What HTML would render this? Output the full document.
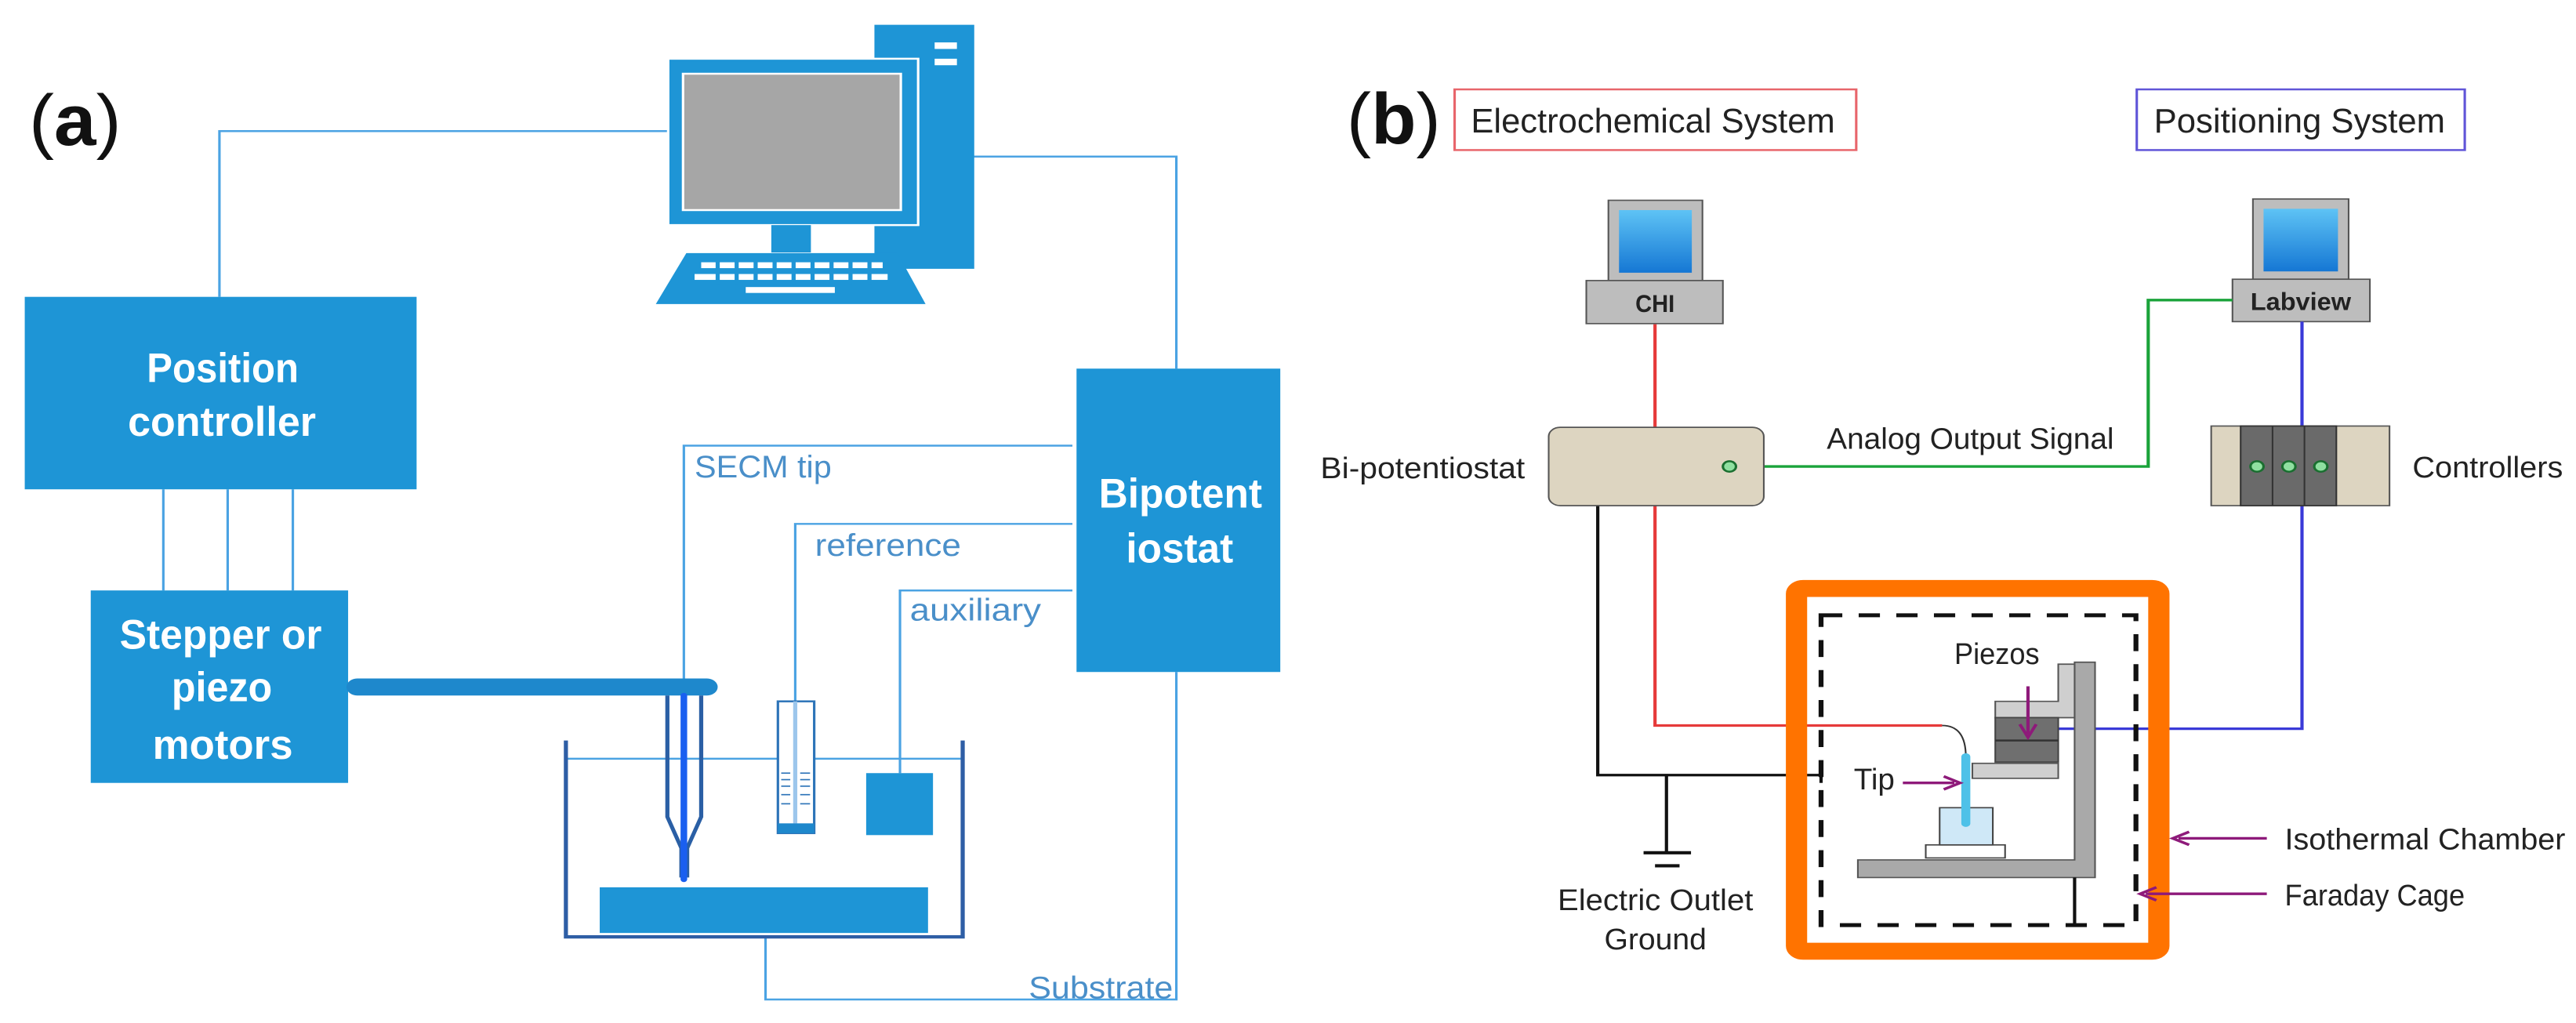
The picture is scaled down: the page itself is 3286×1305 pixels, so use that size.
<!DOCTYPE html>
<html><head><meta charset="utf-8"><style>
html,body{margin:0;padding:0;background:#fff;}
svg{display:block;}
text{font-family:"Liberation Sans",sans-serif;}
</style></head><body>
<svg width="3286" height="1305" xmlns="http://www.w3.org/2000/svg">
<rect width="3286" height="1305" fill="#fff"/>
<!-- Panel A -->
<svg x="0" y="0" width="1650" height="1305" viewBox="0 0 1568 1568" preserveAspectRatio="none">
  <text x="35" y="222" font-size="110" textLength="112" lengthAdjust="spacingAndGlyphs" fill="#111">(<tspan font-weight="bold">a</tspan>)</text>
  <!-- connector lines -->
  <g fill="none" stroke="#4ba3e3" stroke-width="3">
    <polyline points="266,455 266,201 830,201"/>
    <polyline points="1180,240 1426,240 1426,565"/>
    <line x1="198" y1="750" x2="198" y2="905"/>
    <line x1="276" y1="750" x2="276" y2="905"/>
    <line x1="355" y1="750" x2="355" y2="905"/>
    <polyline points="1300,683 829,683 829,1045"/>
    <polyline points="1300,803 964,803 964,1075"/>
    <polyline points="1300,905 1091,905 1091,1185"/>
    <polyline points="1426,1030 1426,1532 928,1532 928,1437"/>
    <line x1="687" y1="1163" x2="1165" y2="1163"/>
  </g>
  <!-- tower -->
  <rect x="1060" y="38" width="121" height="374" fill="#1e95d6"/>
  <rect x="1133" y="65" width="27" height="10" fill="#fff"/>
  <rect x="1133" y="90" width="27" height="10" fill="#fff"/>
  <!-- monitor -->
  <rect x="810" y="90" width="303" height="255" fill="#1e95d6" stroke="#fff" stroke-width="3"/>
  <rect x="828" y="113" width="264" height="209" fill="#a6a6a6" stroke="#fff" stroke-width="3"/>
  <rect x="935" y="345" width="48" height="42" fill="#1e95d6"/>
  <polygon points="832,388 1088,388 1122,466 795,466" fill="#1e95d6"/>
  <g fill="#fff">
    <rect x="850" y="402" width="220" height="9"/>
    <rect x="842" y="420" width="234" height="9"/>
    <rect x="904" y="440" width="108" height="9"/>
  </g>
  <g stroke="#1e95d6" stroke-width="5">
    <line x1="870" y1="398" x2="870" y2="435"/><line x1="893" y1="398" x2="893" y2="435"/><line x1="916" y1="398" x2="916" y2="435"/><line x1="939" y1="398" x2="939" y2="435"/><line x1="962" y1="398" x2="962" y2="435"/><line x1="985" y1="398" x2="985" y2="435"/><line x1="1008" y1="398" x2="1008" y2="435"/><line x1="1031" y1="398" x2="1031" y2="435"/><line x1="1054" y1="398" x2="1054" y2="435"/>
  </g>
  <!-- boxes -->
  <rect x="30" y="455" width="475" height="295" fill="#1e95d6"/>
  <rect x="110" y="905" width="312" height="295" fill="#1e95d6"/>
  <rect x="1305" y="565" width="247" height="465" fill="#1e95d6"/>
  <g fill="#fff" font-weight="bold" font-size="64" lengthAdjust="spacingAndGlyphs">
    <text x="178" y="586" textLength="184" lengthAdjust="spacingAndGlyphs">Position</text>
    <text x="155" y="668" textLength="228" lengthAdjust="spacingAndGlyphs">controller</text>
    <text x="145" y="994" textLength="245" lengthAdjust="spacingAndGlyphs">Stepper or</text>
    <text x="208" y="1075" textLength="122" lengthAdjust="spacingAndGlyphs">piezo</text>
    <text x="185" y="1163" textLength="170" lengthAdjust="spacingAndGlyphs">motors</text>
    <text x="1332" y="778" textLength="198" lengthAdjust="spacingAndGlyphs">Bipotent</text>
    <text x="1365" y="862" textLength="130" lengthAdjust="spacingAndGlyphs">iostat</text>
  </g>
  <g fill="#4a8fc9" font-size="48">
    <text x="842" y="732" textLength="166" lengthAdjust="spacingAndGlyphs">SECM tip</text>
    <text x="988" y="852" textLength="177" lengthAdjust="spacingAndGlyphs">reference</text>
    <text x="1103" y="951" textLength="159" lengthAdjust="spacingAndGlyphs">auxiliary</text>
    <text x="1247" y="1530" textLength="175" lengthAdjust="spacingAndGlyphs">Substrate</text>
  </g>
  <!-- rod -->
  <rect x="420" y="1040" width="450" height="26" rx="13" fill="#1e88cc"/>
  <!-- electrode -->
  <path d="M809,1066 L809,1252 L826,1300 L826,1345 M850,1066 L850,1252 L833,1300 L833,1345" fill="none" stroke="#2a5fa5" stroke-width="5"/>
  <line x1="829" y1="1066" x2="829" y2="1348" stroke="#1a5ff0" stroke-width="8" stroke-linecap="round"/>
  <!-- reference electrode -->
  <rect x="943" y="1075" width="44" height="202" fill="#fff" stroke="#2d74b8" stroke-width="3"/>
  <line x1="964" y1="1075" x2="964" y2="1262" stroke="#9cc6ec" stroke-width="5"/>
  <rect x="943" y="1262" width="44" height="15" fill="#1e88cc"/>
  <g stroke="#2d74b8" stroke-width="2">
    <line x1="947" y1="1185" x2="958" y2="1185"/><line x1="970" y1="1185" x2="982" y2="1185"/>
    <line x1="947" y1="1195" x2="958" y2="1195"/><line x1="970" y1="1195" x2="982" y2="1195"/>
    <line x1="947" y1="1205" x2="958" y2="1205"/><line x1="970" y1="1205" x2="982" y2="1205"/>
    <line x1="947" y1="1218" x2="958" y2="1218"/><line x1="970" y1="1218" x2="982" y2="1218"/>
    <line x1="947" y1="1232" x2="958" y2="1232"/><line x1="970" y1="1232" x2="982" y2="1232"/>
  </g>
  <rect x="1050" y="1185" width="81" height="95" fill="#1e95d6"/>
  <!-- bath -->
  <rect x="727" y="1360" width="398" height="70" fill="#1e95d6"/>
  <polyline points="686,1135 686,1436 1167,1436 1167,1135" fill="none" stroke="#2e5ea5" stroke-width="5"/>
</svg>

<!-- Panel B -->
<svg x="1650" y="0" width="1636" height="1305" viewBox="0 0 1568 1568" preserveAspectRatio="none">
  <text x="65" y="220" font-size="110" textLength="115" lengthAdjust="spacingAndGlyphs" fill="#111">(<tspan font-weight="bold">b</tspan>)</text>
  <rect x="197" y="137" width="491" height="93" fill="none" stroke="#e8656b" stroke-width="3"/>
  <rect x="1031" y="137" width="401" height="93" fill="none" stroke="#6055d8" stroke-width="3"/>
  <g fill="#222" font-size="52">
    <text x="217" y="203" textLength="445" lengthAdjust="spacingAndGlyphs">Electrochemical System</text>
    <text x="1052" y="203" textLength="356" lengthAdjust="spacingAndGlyphs">Positioning System</text>
  </g>
  <!-- computers -->
  <defs>
    <linearGradient id="scr" x1="0" y1="0" x2="0" y2="1">
      <stop offset="0" stop-color="#5ec3f5"/><stop offset="1" stop-color="#1577d4"/>
    </linearGradient>
  </defs>
  <rect x="385" y="307" width="115" height="123" fill="#bdbdbd" stroke="#555" stroke-width="2"/>
  <rect x="398" y="322" width="89" height="96" fill="url(#scr)"/>
  <rect x="358" y="430" width="167" height="66" fill="#bdbdbd" stroke="#555" stroke-width="2"/>
  <text x="418" y="478" font-size="38" font-weight="bold" fill="#222" textLength="48" lengthAdjust="spacingAndGlyphs">CHI</text>
  <rect x="1173" y="305" width="117" height="123" fill="#bdbdbd" stroke="#555" stroke-width="2"/>
  <rect x="1186" y="320" width="91" height="96" fill="url(#scr)"/>
  <rect x="1148" y="428" width="168" height="65" fill="#bdbdbd" stroke="#555" stroke-width="2"/>
  <text x="1170" y="475" font-size="38" font-weight="bold" fill="#222" textLength="123" lengthAdjust="spacingAndGlyphs">Labview</text>
  <!-- wires -->
  <g fill="none" stroke-width="4">
    <line x1="442" y1="497" x2="442" y2="655" stroke="#e63a3a"/>
    <polyline points="442,775 442,1112 793,1112" stroke="#e63a3a"/>
    <path d="M793,1112 Q822,1112 822,1160" stroke="#333" stroke-width="2"/>
    <polyline points="575,715 1045,715 1045,460 1148,460" stroke="#1aa33a"/>
    <line x1="1233" y1="493" x2="1233" y2="653" stroke="#3a3ad8"/>
    <polyline points="1233,775 1233,1117 935,1117" stroke="#3a3ad8"/>
    <polyline points="372,775 372,1188 645,1188" stroke="#111"/>
    <line x1="645" y1="1175" x2="645" y2="1200" stroke="#111"/>
    <line x1="456" y1="1188" x2="456" y2="1305" stroke="#111"/>
    <line x1="428" y1="1307" x2="486" y2="1307" stroke="#111" stroke-width="5"/>
    <line x1="442" y1="1327" x2="472" y2="1327" stroke="#111" stroke-width="5"/>
  </g>
  <!-- potentiostat -->
  <rect x="312" y="655" width="263" height="120" rx="14" fill="#ddd5c1" stroke="#555" stroke-width="2"/>
  <circle cx="533" cy="715" r="8" fill="#8fe0a0" stroke="#1a6f30" stroke-width="3"/>
  <!-- controllers -->
  <rect x="1122" y="653" width="218" height="122" fill="#ddd5c1" stroke="#555" stroke-width="2"/>
  <rect x="1158" y="653" width="117" height="122" fill="#6a6a6a" stroke="#333" stroke-width="2"/>
  <line x1="1197" y1="653" x2="1197" y2="775" stroke="#333" stroke-width="2"/>
  <line x1="1236" y1="653" x2="1236" y2="775" stroke="#333" stroke-width="2"/>
  <circle cx="1178" cy="715" r="8" fill="#8fe0a0" stroke="#1a6f30" stroke-width="3"/>
  <circle cx="1217" cy="715" r="8" fill="#8fe0a0" stroke="#1a6f30" stroke-width="3"/>
  <circle cx="1256" cy="715" r="8" fill="#8fe0a0" stroke="#1a6f30" stroke-width="3"/>
  <!-- chamber -->
  <rect x="615" y="902" width="443" height="556" rx="8" fill="none" stroke="#ff7300" stroke-width="26"/>
  <rect x="645" y="943" width="385" height="475" fill="none" stroke="#111" stroke-width="6" stroke-dasharray="26,20"/>
  <!-- stage -->
  <polygon points="690,1318 955,1318 955,1015 980,1015 980,1345 690,1345" fill="#a9a9a9" stroke="#555" stroke-width="2"/>
  <polygon points="858,1075 935,1075 935,1018 955,1018 955,1100 858,1100" fill="#cfcfcf" stroke="#555" stroke-width="2"/>
  <rect x="858" y="1100" width="77" height="68" fill="#6f6f6f" stroke="#444" stroke-width="2"/>
  <line x1="858" y1="1135" x2="935" y2="1135" stroke="#333" stroke-width="3"/>
  <rect x="830" y="1170" width="105" height="23" fill="#cfcfcf" stroke="#555" stroke-width="2"/>
  <line x1="955" y1="1345" x2="955" y2="1418" stroke="#111" stroke-width="4"/>
  <rect x="773" y="1295" width="97" height="20" fill="#fff" stroke="#444" stroke-width="2"/>
  <rect x="790" y="1238" width="65" height="57" fill="#cfe8f7" stroke="#444" stroke-width="2"/>
  <line x1="822" y1="1160" x2="822" y2="1262" stroke="#4ec1e8" stroke-width="11" stroke-linecap="round"/>
  <!-- purple arrows -->
  <g stroke="#8e1a7a" stroke-width="4" fill="none">
    <line x1="898" y1="1052" x2="898" y2="1125"/>
    <polyline points="888,1110 898,1130 908,1110"/>
    <line x1="745" y1="1200" x2="808" y2="1200"/>
    <polyline points="795,1190 815,1200 795,1210"/>
    <line x1="1190" y1="1285" x2="1082" y2="1285"/>
    <polyline points="1095,1275 1075,1285 1095,1295"/>
    <line x1="1190" y1="1370" x2="1042" y2="1370"/>
    <polyline points="1055,1360 1035,1370 1055,1380"/>
  </g>
  <g fill="#222" font-size="46">
    <text x="33" y="733" textLength="250" lengthAdjust="spacingAndGlyphs">Bi-potentiostat</text>
    <text x="652" y="688" textLength="351" lengthAdjust="spacingAndGlyphs">Analog Output Signal</text>
    <text x="1368" y="732" textLength="184" lengthAdjust="spacingAndGlyphs">Controllers</text>
    <text x="808" y="1018" textLength="104" lengthAdjust="spacingAndGlyphs">Piezos</text>
    <text x="685" y="1210" textLength="50" lengthAdjust="spacingAndGlyphs">Tip</text>
    <text x="323" y="1395" textLength="239" lengthAdjust="spacingAndGlyphs">Electric Outlet</text>
    <text x="380" y="1455" textLength="125" lengthAdjust="spacingAndGlyphs">Ground</text>
    <text x="1212" y="1302" textLength="343" lengthAdjust="spacingAndGlyphs">Isothermal Chamber</text>
    <text x="1212" y="1388" textLength="220" lengthAdjust="spacingAndGlyphs">Faraday Cage</text>
  </g>
</svg>
</svg>
</body></html>
